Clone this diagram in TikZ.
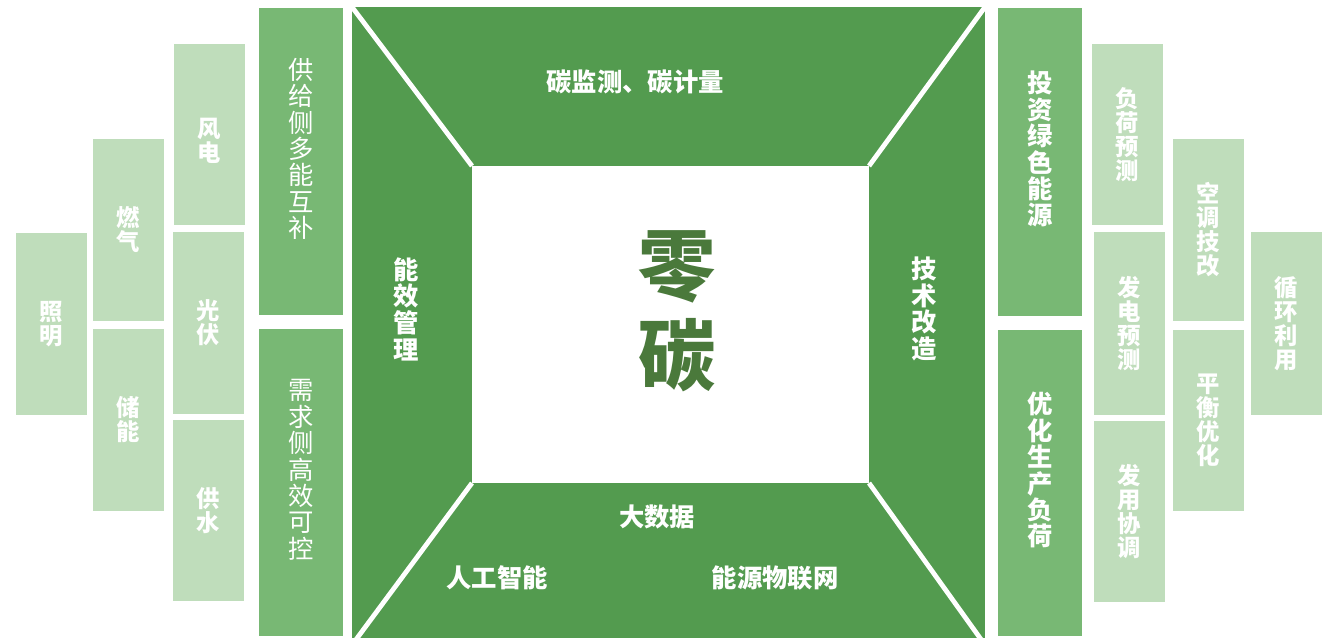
\documentclass[tikz,border=0pt]{standalone}
\usepackage{fontspec}
\newfontfamily\cjk{Noto Sans CJK SC}
\usetikzlibrary{calc}
\definecolor{maingreen}{HTML}{539B4F}
\definecolor{midgreen}{HTML}{78B874}
\definecolor{lightgreen}{HTML}{BFDDBB}
\definecolor{darkgreen}{HTML}{4A793B}

\tikzset{
    lighttext/.style={text=white, align=center, inner sep=0pt,
        font=\cjk\bfseries\fontsize{17.5}{18}\selectfont},
    midtext/.style={text=white, align=center, inner sep=0pt, yshift=9.5pt,
        font=\cjk\fontsize{19}{19.8}\selectfont},
    midbold/.style={midtext, font=\cjk\bfseries\fontsize{19}{19.8}\selectfont},
    framelabel/.style={text=white, align=center, inner sep=0pt,
        font=\cjk\bfseries\fontsize{19}{20}\selectfont},
    splitline/.style={white, line width=3.6pt}
}

\begin{document}
\begin{tikzpicture}[x=0.75pt, y=-0.75pt]
\useasboundingbox (0,0) rectangle (1337,638);

% --- MACRO: DRAW ONE PANEL ---
% #1: node name, #2-#5: corners, #6: fill colour, #7: text style, #8: text
\newcommand{\drawPanel}[8]{
    \fill[#6] (#2,#3) rectangle (#4,#5);
    \node[#7] (#1) at ({(#2+#4)/2},{(#3+#5)/2}) {#8};
}

% --- CENTRAL FRAME ---
\coordinate (oTL) at (352,7);
\coordinate (oTR) at (985,7);
\coordinate (oBL) at (352,645);
\coordinate (oBR) at (985,645);
\coordinate (iTL) at (472,166);
\coordinate (iTR) at (869,166);
\coordinate (iBL) at (472,483);
\coordinate (iBR) at (869,483);

\fill[maingreen] (oTL) rectangle (oBR);
\fill[white] (iTL) rectangle (iBR);
\draw[splitline] (oTL) -- (iTL);
\draw[splitline] (oTR) -- (iTR);
\draw[splitline] (oBL) -- (iBL);
\draw[splitline] (oBR) -- (iBR);

\node[text=darkgreen, align=center, inner sep=0pt,
    font=\cjk\bfseries\fontsize{58}{67.5}\selectfont] (core) at (677,311) {零\\碳};

\node[framelabel] (monitor) at (635,82) {碳监测、碳计量};
\node[framelabel] (efficiency) at (406,309) {能\\效\\管\\理};
\node[framelabel] (retrofit) at (924,309) {技\\术\\改\\造};
\node[framelabel] (bigdata) at (657,517) {大数据};
\node[framelabel] (ai) at (497,578) {人工智能};
\node[framelabel] (iot) at (775,578) {能源物联网};

% --- LEFT SIDE ---
\drawPanel{supply}{259}{8}{343}{315}{midgreen}{midtext}{供\\给\\侧\\多\\能\\互\\补}
\drawPanel{demand}{259}{329}{343}{636}{midgreen}{midtext}{需\\求\\侧\\高\\效\\可\\控}
\drawPanel{wind}{174}{44}{245}{225}{lightgreen}{lighttext, yshift=-5pt}{风\\电}
\drawPanel{solar}{173}{232}{244}{414}{lightgreen}{lighttext}{光\\伏}
\drawPanel{water}{173}{420}{244}{601}{lightgreen}{lighttext}{供\\水}
\drawPanel{gas}{93}{139}{164}{321}{lightgreen}{lighttext}{燃\\气}
\drawPanel{storage}{93}{329}{164}{511}{lightgreen}{lighttext}{储\\能}
\drawPanel{lighting}{16}{233}{87}{415}{lightgreen}{lighttext}{照\\明}

% --- RIGHT SIDE ---
\drawPanel{invest}{998}{8}{1082}{316}{midgreen}{midbold}{投\\资\\绿\\色\\能\\源}
\drawPanel{optimize}{998}{330}{1082}{636}{midgreen}{midbold}{优\\化\\生\\产\\负\\荷}
\drawPanel{loadfc}{1092}{44}{1163}{225}{lightgreen}{lighttext}{负\\荷\\预\\测}
\drawPanel{genfc}{1094}{232}{1165}{415}{lightgreen}{lighttext}{发\\电\\预\\测}
\drawPanel{coord}{1094}{421}{1165}{602}{lightgreen}{lighttext}{发\\用\\协\\调}
\drawPanel{hvac}{1173}{139}{1244}{321}{lightgreen}{lighttext}{空\\调\\技\\改}
\drawPanel{balance}{1173}{330}{1244}{511}{lightgreen}{lighttext}{平\\衡\\优\\化}
\drawPanel{recycle}{1251}{232}{1322}{415}{lightgreen}{lighttext}{循\\环\\利\\用}

\end{tikzpicture}
\end{document}
